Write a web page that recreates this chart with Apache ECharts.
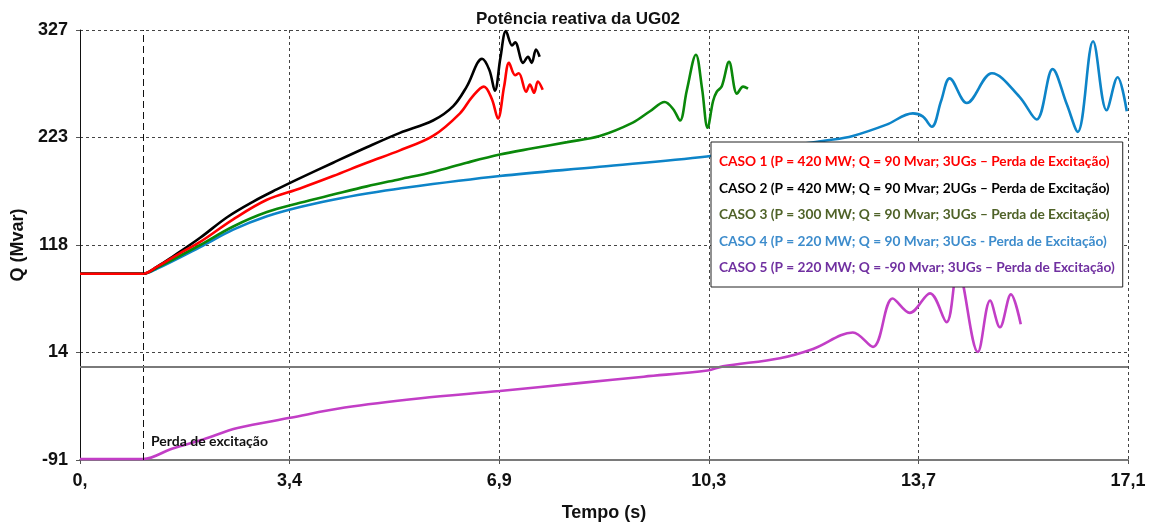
<!DOCTYPE html>
<html>
<head>
<meta charset="utf-8">
<script src="https://cdn.jsdelivr.net/npm/echarts@6/dist/echarts.min.js"></script>
<style>
html,body{margin:0;padding:0;background:#fff;}
#chart{width:1156px;height:527px;}
</style>
</head>
<body>
<div id="chart"></div>
<script>
// ---- Data (time in s, Q in Mvar) ----
const xTickLabels = ['0,', '3,4', '6,9', '10,3', '13,7', '17,1'];
const yTickLabels = ['-91', '14', '118', '223', '327'];
const eventTime = 1.03;

const caso1Name = 'CASO 1 (P = 420 MW; Q = 90 Mvar; 3UGs \u2013 Perda de Excita\u00e7\u00e3o)';
const caso2Name = 'CASO 2 (P = 420 MW; Q = 90 Mvar; 2UGs \u2013 Perda de Excita\u00e7\u00e3o)';
const caso3Name = 'CASO 3 (P = 300 MW; Q = 90 Mvar; 3UGs \u2013 Perda de Excita\u00e7\u00e3o)';
const caso4Name = 'CASO 4 (P = 220 MW; Q = 90 Mvar; 3UGs - Perda de Excita\u00e7\u00e3o)';
const caso5Name = 'CASO 5 (P = 220 MW; Q = -90 Mvar; 3UGs \u2013 Perda de Excita\u00e7\u00e3o)';

const caso1T = [0, 1.03, 1.26, 1.60, 1.96, 2.50, 3.05, 3.59, 4.13, 4.68, 5.22, 5.76, 6.20, 6.40, 6.59, 6.72, 6.82, 6.92, 7.00, 7.10, 7.16, 7.28, 7.34, 7.41, 7.47, 7.55];
const caso1Q = [90, 90, 97, 109, 121, 143, 162, 173, 185, 198, 210, 224, 246, 262, 272, 260, 241, 272, 295, 283, 285, 267, 274, 266, 277, 269];

const caso2T = [0, 1.03, 1.26, 1.52, 1.96, 2.40, 2.82, 3.21, 3.59, 4.13, 4.68, 5.22, 5.76, 6.09, 6.31, 6.56, 6.68, 6.77, 6.86, 6.95, 7.05, 7.10, 7.23, 7.31, 7.37, 7.44, 7.50];
const caso2Q = [90, 90, 97, 107, 125, 145, 160, 172, 183, 198, 213, 227, 239, 253, 272, 299, 288, 268, 300, 326, 312, 315, 295, 301, 295, 308, 301];

const caso3T = [0, 1.03, 1.26, 1.96, 2.50, 3.05, 3.59, 4.13, 4.68, 5.22, 5.76, 6.31, 6.85, 7.39, 7.95, 8.48, 9.02, 9.30, 9.54, 9.68, 9.79, 9.90, 10.05, 10.15, 10.24, 10.33, 10.39, 10.47, 10.59, 10.72, 10.82, 10.90];
const caso3Q = [90, 90, 96, 118, 136, 150, 159, 167, 175, 182, 189, 198, 206, 212, 218, 224, 237, 248, 257, 250, 239, 268, 303, 270, 232, 258, 267, 272, 296, 265, 272, 270];

const caso4T = [0, 1.03, 1.26, 1.96, 2.50, 3.05, 3.59, 4.13, 4.68, 5.22, 6.85, 8.48, 10.23, 11.20, 12.23, 12.61, 13.16, 13.59, 13.75, 13.90, 14.05, 14.19, 14.47, 14.88, 15.33, 15.61, 15.87, 16.10, 16.28, 16.53, 16.75, 16.93, 17.08];
const caso4Q = [90, 90, 95, 116, 133, 146, 155, 162, 168, 173, 185, 194, 204, 212, 220, 224, 235, 246, 243, 233, 258, 280, 256, 285, 262, 240, 289, 255, 228, 316, 249, 281, 248];

const caso5T = [0, 1.03, 1.50, 2.01, 2.57, 3.43, 4.32, 5.56, 6.85, 8.18, 9.20, 10.24, 10.49, 11.42, 11.96, 12.61, 12.94, 13.26, 13.54, 13.87, 14.14, 14.32, 14.65, 14.85, 15.01, 15.19, 15.35];
const caso5Q = [-90, -90, -80, -71, -60, -50, -40, -31, -24, -16, -10, -4, 0, 8, 17, 33, 19, 66, 52, 71, 43, 95, 14, 64, 38, 70, 41];

// ---- Axis setup ----
const yMin = -91, yMax = 327;
const yOffset = -yMin;               // shift so that axis min is 0
const yInterval = (yMax - yMin) / 4; // 104.5
const xMax = 17.1;
const xInterval = xMax / 5;          // 3.42

function pairs(T, Q) { return T.map((t, i) => [t, Q[i] + yOffset]); }

const chart = echarts.init(document.getElementById('chart'));
const lineW = 2.6;
const gridDash = { color: '#444', width: 1, type: [3, 3] };

const option = {
  animation: false,
  backgroundColor: '#fff',
  title: {
    text: 'Pot\u00eancia reativa da UG02',
    left: 'center',
    top: 6,
    textStyle: { fontFamily: 'Liberation Sans', fontWeight: 'bold', fontSize: 17, color: '#111' }
  },
  grid: { left: 80, right: 28, top: 30, bottom: 65, containLabel: false },
  legend: {
    orient: 'vertical',
    left: 711,
    top: 142,
    padding: [13, 8, 12, 3],
    itemGap: 12.5,
    itemWidth: 0,
    itemHeight: 14,
    icon: 'rect',
    selectedMode: false,
    backgroundColor: '#fff',
    borderColor: '#222',
    borderWidth: 1,
    textStyle: { fontFamily: 'Lato', fontWeight: 'bold', fontSize: 13.7, lineHeight: 14 },
    data: [
      { name: caso1Name, textStyle: { color: '#ff0000' } },
      { name: caso2Name, textStyle: { color: '#000000' } },
      { name: caso3Name, textStyle: { color: '#4f6228' } },
      { name: caso4Name, textStyle: { color: '#3d8ccc' } },
      { name: caso5Name, textStyle: { color: '#7030a0' } }
    ]
  },
  xAxis: {
    type: 'value',
    min: 0,
    max: xMax,
    interval: xInterval,
    name: 'Tempo (s)',
    nameLocation: 'middle',
    nameGap: 44,
    nameTextStyle: { fontFamily: 'Liberation Sans', fontWeight: 'bold', fontSize: 18, color: '#111' },
    axisLine: { lineStyle: { color: '#7a7a7a', width: 2 } },
    axisTick: { show: true, length: 4, lineStyle: { color: '#555' } },
    axisLabel: {
      margin: 12,
      fontFamily: 'Liberation Sans', fontWeight: 'bold', fontSize: 18, color: '#111',
      formatter: v => xTickLabels[Math.round(v / xInterval)]
    },
    splitLine: { show: true, lineStyle: gridDash }
  },
  yAxis: {
    type: 'value',
    min: 0,
    max: yMax - yMin,
    interval: yInterval,
    name: 'Q (Mvar)',
    nameLocation: 'middle',
    nameGap: 46,
    nameRotate: 90,
    nameTextStyle: { fontFamily: 'Liberation Sans', fontWeight: 'bold', fontSize: 18, color: '#111' },
    axisLine: { show: true, lineStyle: { color: '#111', width: 1 } },
    axisTick: { show: true, length: 4, lineStyle: { color: '#555' } },
    axisLabel: {
      margin: 12,
      fontFamily: 'Liberation Sans', fontWeight: 'bold', fontSize: 18, color: '#111',
      formatter: v => yTickLabels[Math.round(v / yInterval)]
    },
    splitLine: { show: true, lineStyle: gridDash }
  },
  graphic: [
    {
      type: 'text',
      left: 151,
      top: 434,
      style: { text: 'Perda de excita\u00e7\u00e3o', fontFamily: 'Lato', fontWeight: 'bold', fontSize: 14, fill: '#111' },
      z: 10
    }
  ],
  series: [
    {
      name: caso5Name, type: 'line', showSymbol: false, smooth: 0.35, silent: true,
      lineStyle: { color: '#c23ec6', width: lineW }, itemStyle: { color: '#c23ec6' },
      data: pairs(caso5T, caso5Q),
      markLine: {
        silent: true, symbol: 'none', animation: false,
        label: { show: false },
        data: [
          { xAxis: eventTime, lineStyle: { color: '#111', width: 1, type: [7, 4] } },
          { yAxis: 0 + yOffset, lineStyle: { color: '#7a7a7a', width: 2, type: 'solid' } }
        ]
      }
    },
    {
      name: caso4Name, type: 'line', showSymbol: false, smooth: 0.35, silent: true,
      lineStyle: { color: '#0d84c8', width: lineW }, itemStyle: { color: '#0d84c8' },
      data: pairs(caso4T, caso4Q)
    },
    {
      name: caso3Name, type: 'line', showSymbol: false, smooth: 0.35, silent: true,
      lineStyle: { color: '#0a880a', width: lineW }, itemStyle: { color: '#0a880a' },
      data: pairs(caso3T, caso3Q)
    },
    {
      name: caso2Name, type: 'line', showSymbol: false, smooth: 0.35, silent: true,
      lineStyle: { color: '#000000', width: lineW }, itemStyle: { color: '#000000' },
      data: pairs(caso2T, caso2Q)
    },
    {
      name: caso1Name, type: 'line', showSymbol: false, smooth: 0.35, silent: true,
      lineStyle: { color: '#ff0000', width: lineW }, itemStyle: { color: '#ff0000' },
      data: pairs(caso1T, caso1Q)
    }
  ]
};
chart.setOption(option);
</script>
</body>
</html>
